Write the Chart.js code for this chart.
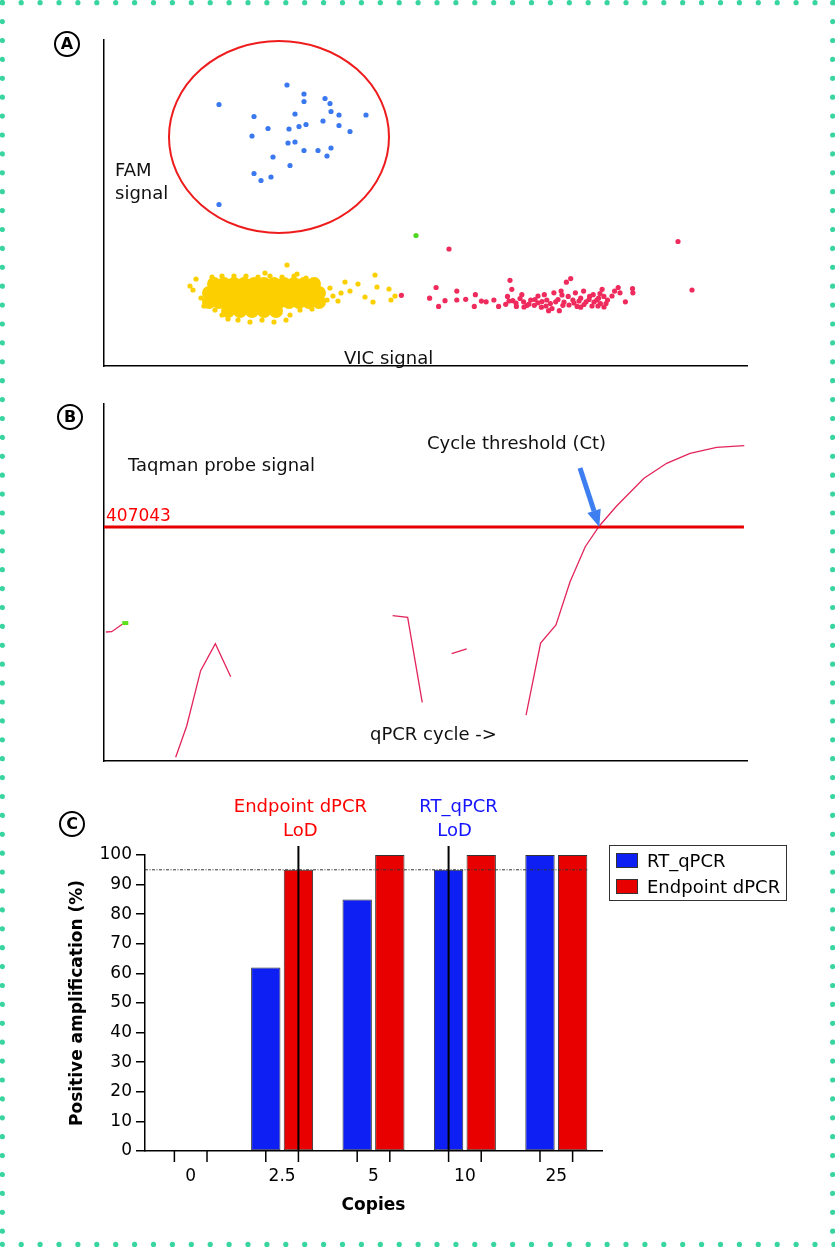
<!DOCTYPE html>
<html><head><meta charset="utf-8">
<script src="https://cdn.jsdelivr.net/npm/chart.js@4.4.0/dist/chart.umd.min.js"></script>
<style>
html,body{margin:0;padding:0;background:#fff;}
body{width:835px;height:1247px;position:relative;overflow:hidden;font-family:'DejaVu Sans',sans-serif;}
canvas{position:absolute;}
.t{position:absolute;white-space:nowrap;font-size:18px;line-height:20px;color:#111;}
.circ{position:absolute;width:22px;height:22px;border:2px solid #000;border-radius:50%;font-weight:bold;font-size:16px;line-height:22px;text-align:center;color:#000;}
#legend{position:absolute;left:609px;top:845px;width:176px;height:54px;border:1.5px solid #333;}
#legend .row{position:absolute;left:6px;height:20px;font-size:18px;line-height:20px;white-space:nowrap;}
#legend .sw{display:inline-block;width:20px;height:13px;border:1px solid #333;vertical-align:middle;margin-right:9px;position:relative;top:-2px;}
</style></head><body>
<canvas id="frame" width="835" height="1247" style="left:0;top:0"></canvas>
<canvas id="chartA" width="835" height="380" style="left:0;top:0"></canvas>
<canvas id="chartB" width="835" height="400" style="left:0;top:380px"></canvas>
<canvas id="chartC" width="835" height="467" style="left:0;top:780px"></canvas>

<div class="circ" style="left:54px;top:31px">A</div>
<div class="circ" style="left:57px;top:404px">B</div>
<div class="circ" style="left:59px;top:811px">C</div>

<div class="t" style="left:115px;top:160px">FAM</div>
<div class="t" style="left:115px;top:183px">signal</div>
<div class="t" style="left:344px;top:348px">VIC signal</div>
<div class="t" style="left:128px;top:455px">Taqman probe signal</div>
<div class="t" style="left:427px;top:433px">Cycle threshold (Ct)</div>
<div class="t" style="left:370px;top:724px">qPCR cycle -&gt;</div>
<div class="t" id="thrLabel" style="left:106px;top:505px;font-size:17px;color:#f00"></div>
<div id="legend"></div>

<script>
// ---------- Panel A: droplet scatter (VIC vs FAM amplitude) ----------
const famPosVIC = [1830,2000,2000,2210,2260,1150,1910,2270,2350,2620,1500,2190,2350,2020,1950,1850,1640,2460,1480,1840,1910,2000,2140,2270,2230,1690,1860,1500,1670,1570,1150];
const famPosFAM = [5620,5440,5290,5350,5250,5230,5040,5090,5020,5020,4990,4900,4810,4830,4790,4740,4750,4690,4600,4460,4480,4310,4310,4360,4200,4180,4010,3850,3780,3710,3230];
const dblPosVIC = [3120];
const dblPosFAM = [2610];
const vicPosVIC = [2974,3256,3321,3346,3410,3528,3528,3617,3714,3703,3774,3821,3899,3946,4060,4078,4035,4088,4178,4196,4231,4267,4303,4339,4374,4403,4428,4446,4464,4499,4517,4571,4589,4624,4642,4667,4689,4714,4731,4767,4796,4821,4856,4892,4928,4964,4981,4999,5035,5106,5142,5160,5214,5285,5289,4124,4553,4767,4946,4017,4120,4160,4250,4310,4380,4420,4480,4540,4600,4650,4700,4750,4800,4850,4900,4960,5020,5080,5000,4880,4580,4340,4200,4050,4940,3450,5740,5880];
const vicPosFAM = [1413,1356,1570,1191,1306,1499,1320,1334,1427,1191,1299,1284,1320,1191,1713,1534,1391,1306,1427,1284,1213,1320,1213,1263,1177,1427,1320,1106,1249,1463,1284,1499,1213,1677,1391,1749,1320,1463,1191,1356,1499,1284,1391,1427,1320,1249,1534,1391,1320,1499,1570,1463,1284,1549,1463,1191,1106,1177,1356,1234,1260,1350,1240,1330,1290,1200,1150,1330,1280,1220,1260,1300,1230,1330,1280,1450,1250,1400,1180,1200,1420,1400,1180,1300,1200,2340,2490,1520];
const negCoreVIC = [1100,1200,1300,1400,1500,1600,1700,1800,1900,2000,2100,1050,1150,1250,1350,1450,1550,1650,1750,1850,1950,2050,2150,1050,1150,1250,1350,1450,1550,1650,1750,1850,1950,2050,2150,1240,1360,1480,1600,1720];
const negCoreFAM = [1640,1640,1640,1640,1640,1640,1640,1640,1640,1640,1640,1460,1460,1460,1460,1460,1460,1460,1460,1460,1460,1460,1460,1280,1280,1280,1280,1280,1280,1280,1280,1280,1280,1280,1280,1100,1100,1100,1100,1100];
const negEdgeVIC = [1080,1180,1300,1420,1540,1660,1780,1900,2020,2120,1830,1930,1610,920,860,890,970,1000,1110,1180,1240,1340,1460,1580,1700,1820,1860,1960,2080,2230,2260,2290,2340,2410,2460,2540,2610,2690,2710,2730,2850,2870,2910,2370];
const negEdgeFAM = [1780,1800,1800,1800,1780,1800,1780,1800,1760,1720,2020,1840,1860,1740,1600,1520,1360,1200,1120,1020,940,920,880,920,880,920,1020,1120,1140,1320,1560,1400,1300,1680,1500,1640,1380,1280,1820,1580,1540,1320,1400,1460];
const gateCenterVIC = 1750, gateCenterFAM = 4580, gateRadiusVIC = 1100, gateRadiusFAM = 1920;

// ---------- Panel B: qPCR amplification curve ----------
const seg1Cycle = [0.12,0.48,1.14];            const seg1Signal = [224500,225000,237900];
const seg2Cycle = [4.48,5.17,6.04,6.96,7.92];  const seg2Signal = [6400,60900,157100,204100,146700];
const seg3Cycle = [18.04,18.98,19.89];         const seg3Signal = [252800,250000,102100];
const seg4Cycle = [21.73,22.67];               const seg4Signal = [186700,194900];
const seg5Cycle = [26.38,27.29,28.25,29.13,30.08,30.96,32.04,33.75,35.17,36.63,38.29,40.02];
const seg5Signal = [80000,205300,236600,312000,372900,408900,443700,491900,518000,535400,545800,548600];
const thresholdValue = 407043;
const ctCycle = 30.96;
const markerCycle = [1.14,1.52]; const markerSignal = [240000,240000];

// ---------- Panel C: positive amplification ----------
const copies = ['0','2.5','5','10','25'];
const seriesNames = ['RT_qPCR','Endpoint dPCR'];
const rtqpcrPct = [0,62,85,95,100];
const dpcrPct = [0,95,100,100,100];
const lodLevel = 95;
const yTicksC = [0,10,20,30,40,50,60,70,80,90,100];
const dpcrLodIndex = 1, rtLodIndex = 3;

const zip = (xs, ys) => xs.map((v, i) => ({x: v, y: ys[i]}));
Chart.defaults.font.family = "'DejaVu Sans', sans-serif";
Chart.defaults.color = '#000';

// frame dots
(function(){
  const c = document.getElementById('frame').getContext('2d');
  c.fillStyle = '#38d59e';
  const dot = (x,y)=>{c.beginPath();c.arc(x,y,2.6,0,Math.PI*2);c.fill();};
  for (let x = 2.3; x < 835; x += 18.9) { dot(x, 2.7); dot(x, 1244.4); }
  for (let y = 2.7; y < 1247; y += 18.9) { dot(2.3, y); dot(832.7, y); }
})();

document.getElementById('thrLabel').textContent = String(thresholdValue);

const noAxis = (min, max) => ({type:'linear', min, max, ticks:{display:false}, grid:{display:false, drawTicks:false}, border:{display:true, color:'#000', width:1.5}});

// ---- Chart A
const gatePlugin = {
  id:'gate',
  afterDatasetsDraw(chart){
    const {ctx, scales:{x,y}} = chart;
    const cx = x.getPixelForValue(gateCenterVIC), cy = y.getPixelForValue(gateCenterFAM);
    const rx = x.getPixelForValue(gateCenterVIC + gateRadiusVIC) - cx;
    const ry = cy - y.getPixelForValue(gateCenterFAM + gateRadiusFAM);
    ctx.save(); ctx.strokeStyle = '#ee1c1c'; ctx.lineWidth = 2;
    ctx.beginPath(); ctx.ellipse(cx, cy, rx, ry, 0, 0, Math.PI*2); ctx.stroke(); ctx.restore();
  }
};
new Chart(document.getElementById('chartA'), {
  type:'scatter',
  data:{datasets:[
    {label:'Negative', data:zip(negCoreVIC,negCoreFAM), backgroundColor:'#fcd000', borderWidth:0, pointRadius:7},
    {label:'Negative (edge)', data:zip(negEdgeVIC,negEdgeFAM), backgroundColor:'#fcd000', borderWidth:0, pointRadius:2.6},
    {label:'VIC positive', data:zip(vicPosVIC,vicPosFAM), backgroundColor:'#ef2a5c', borderWidth:0, pointRadius:2.6},
    {label:'FAM positive', data:zip(famPosVIC,famPosFAM), backgroundColor:'#3a78ef', borderWidth:0, pointRadius:2.6},
    {label:'FAM+VIC positive', data:zip(dblPosVIC,dblPosFAM), backgroundColor:'#4fd61e', borderWidth:0, pointRadius:2.6}
  ]},
  options:{responsive:false, animation:false, layout:{padding:{left:104, top:40, right:88, bottom:14}},
    plugins:{legend:{display:false}, tooltip:{enabled:false}},
    scales:{x:noAxis(0,6430), y:noAxis(0,6520)}},
  plugins:[gatePlugin]
});

// ---- Chart B
const arrowPlugin = {
  id:'ctArrow',
  afterDatasetsDraw(chart){
    const {ctx, scales:{x,y}} = chart;
    const tx = x.getPixelForValue(ctCycle), ty = y.getPixelForValue(thresholdValue);
    const sx = x.getPixelForValue(ctCycle - 1.21), sy = y.getPixelForValue(thresholdValue + 102800);
    const ang = Math.atan2(ty - sy, tx - sx), L = 17, W = 7;
    const bx = tx - L*Math.cos(ang), by = ty - L*Math.sin(ang);
    ctx.save(); ctx.strokeStyle = '#3d7ff0'; ctx.fillStyle = '#3d7ff0'; ctx.lineWidth = 5;
    ctx.beginPath(); ctx.moveTo(sx, sy); ctx.lineTo(bx, by); ctx.stroke();
    ctx.beginPath(); ctx.moveTo(tx, ty);
    ctx.lineTo(bx + W*Math.sin(ang), by - W*Math.cos(ang));
    ctx.lineTo(bx - W*Math.sin(ang), by + W*Math.cos(ang)); ctx.closePath(); ctx.fill();
    ctx.restore();
  }
};
const curve = (xs, ys) => ({data:zip(xs,ys), showLine:true, borderColor:'#e3245a', borderWidth:1.3, pointRadius:0, fill:false});
new Chart(document.getElementById('chartB'), {
  type:'scatter',
  data:{datasets:[
    {label:'Threshold', data:[{x:0,y:thresholdValue},{x:40,y:thresholdValue}], showLine:true, borderColor:'#e60000', borderWidth:3, pointRadius:0},
    curve(seg1Cycle,seg1Signal), curve(seg2Cycle,seg2Signal), curve(seg3Cycle,seg3Signal),
    curve(seg4Cycle,seg4Signal), curve(seg5Cycle,seg5Signal),
    {label:'marker', data:zip(markerCycle,markerSignal), showLine:true, borderColor:'#5be01e', borderWidth:4, pointRadius:0}
  ]},
  options:{responsive:false, animation:false, layout:{padding:{left:104, top:24, right:88, bottom:19}},
    plugins:{legend:{display:false}, tooltip:{enabled:false}},
    scales:{x:noAxis(0,40.19), y:noAxis(0,621200)}},
  plugins:[arrowPlugin]
});

// ---- Chart C
const cPlugin = {
  id:'cExtras',
  afterDatasetsDraw(chart){
    const {ctx, chartArea, scales:{x,y}} = chart;
    const m0 = chart.getDatasetMeta(0), m1 = chart.getDatasetMeta(1);
    const y0 = y.getPixelForValue(0);
    ctx.save();
    ctx.strokeStyle = '#000'; ctx.lineWidth = 1.5;
    [m0, m1].forEach(m => m.data.forEach(b => {
      ctx.beginPath(); ctx.moveTo(b.x, y0); ctx.lineTo(b.x, y0 + 11); ctx.stroke();
    }));
    // 95% dotted level
    const last = m1.data[m1.data.length - 1];
    ctx.lineWidth = 1; ctx.strokeStyle = '#333'; ctx.setLineDash([3,1.5,1,1.5]);
    const yl = y.getPixelForValue(lodLevel);
    ctx.beginPath(); ctx.moveTo(chartArea.left, yl); ctx.lineTo(last.x + last.width/2, yl); ctx.stroke();
    ctx.setLineDash([]);
    // LoD lines
    const top = y.getPixelForValue(103);
    const xd = m1.data[dpcrLodIndex].x, xr = m0.data[rtLodIndex].x;
    ctx.lineWidth = 2; ctx.strokeStyle = '#000';
    [xd, xr].forEach(xx => { ctx.beginPath(); ctx.moveTo(xx, top); ctx.lineTo(xx, y0); ctx.stroke(); });
    ctx.font = "18px 'DejaVu Sans'"; ctx.textAlign = 'center'; ctx.textBaseline = 'middle';
    ctx.fillStyle = '#f00';
    ctx.fillText('Endpoint dPCR', xd + 2, chartArea.top - 48);
    ctx.fillText('LoD', xd + 2, chartArea.top - 24);
    ctx.fillStyle = '#1414ff';
    ctx.fillText('RT_qPCR', xr + 10, chartArea.top - 48);
    ctx.fillText('LoD', xr + 6, chartArea.top - 24);
    ctx.restore();
  }
};
const barColors = ['#0d1ff2', '#e80000'];
new Chart(document.getElementById('chartC'), {
  type:'bar',
  data:{labels:copies, datasets:[
    {label:seriesNames[0], data:rtqpcrPct, backgroundColor:barColors[0], borderColor:'#333', borderWidth:1, borderSkipped:false},
    {label:seriesNames[1], data:dpcrPct, backgroundColor:barColors[1], borderColor:'#333', borderWidth:1, borderSkipped:false}
  ]},
  options:{responsive:false, animation:false,
    categoryPercentage:0.714, barPercentage:0.9,
    layout:{padding:{left:0, top:75, right:233, bottom:26}},
    plugins:{legend:{display:false}, tooltip:{enabled:false}},
    scales:{
      x:{grid:{display:false, drawTicks:false}, border:{display:true, color:'#000', width:1.5},
         ticks:{font:{size:17}, color:'#000', padding:15},
         title:{display:true, text:'Copies', font:{size:17, weight:'bold'}, color:'#000', padding:{top:0, bottom:5}},
         afterFit(s){ s.height = 70; }},
      y:{min:0, max:100, afterBuildTicks(s){ s.ticks = yTicksC.map(v => ({value:v})); },
         grid:{display:true, drawOnChartArea:false, drawTicks:true, tickLength:9, color:'#000', lineWidth:1.5},
         border:{display:true, color:'#000', width:1.5},
         ticks:{font:{size:17}, color:'#000', padding:4},
         title:{display:true, text:'Positive amplification (%)', font:{size:17, weight:'bold'}, color:'#000', padding:{top:67, bottom:0}},
         afterFit(s){ s.width = 145; }}
    }},
  plugins:[cPlugin]
});

// legend from series
const lg = document.getElementById('legend');
seriesNames.forEach((n, i) => {
  const r = document.createElement('div'); r.className = 'row'; r.style.top = (5 + i*26) + 'px';
  const sw = document.createElement('span'); sw.className = 'sw'; sw.style.background = barColors[i];
  r.appendChild(sw); r.appendChild(document.createTextNode(n)); lg.appendChild(r);
});
</script>
</body></html>
